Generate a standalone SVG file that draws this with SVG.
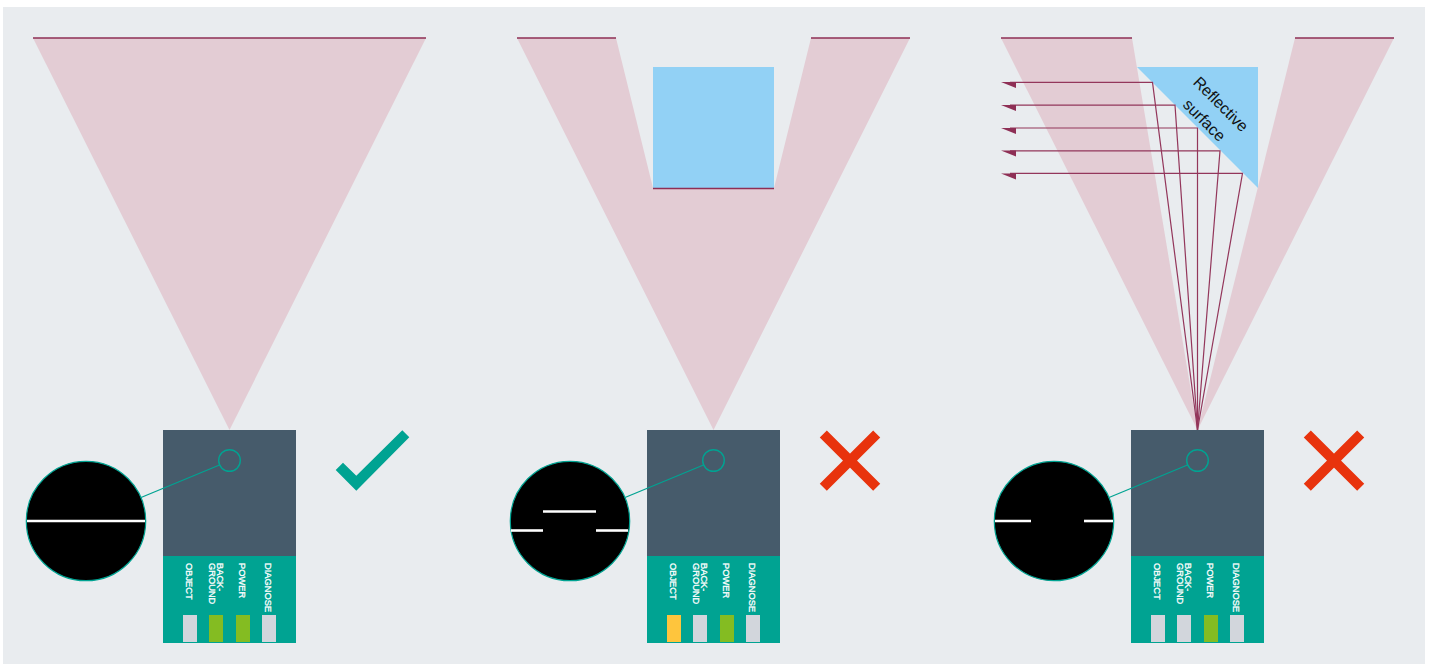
<svg xmlns="http://www.w3.org/2000/svg" width="1432" height="664" viewBox="0 0 1432 664">
<style>
.beam{fill:#e3ccd4}
.edge{stroke:#8e2f55;stroke-width:1.5;fill:none}
.ray{stroke:#93365b;stroke-width:1.2;fill:none}
.head{fill:#8e2f55}
.blue{fill:#92d1f5}
.body{fill:#465b6b}
.panel{fill:#00a392}
.led{fill:#d2d6dc}
.on{fill:#84bc22}
.warn{fill:#fec53d}
.ring{fill:none;stroke:#00a392;stroke-width:1.4}
.lens{fill:#000;stroke:#00a392;stroke-width:1.2}
.lead{stroke:#00a392;stroke-width:1.3;fill:none}
.scan{stroke:#fff;stroke-width:2.6;fill:none}
.lbl{font:400 9.3px "Liberation Sans",Arial,sans-serif;fill:#fff;stroke:#fff;stroke-width:.3}
.cross{stroke:#e8330d;stroke-width:10;fill:none}
.tick{fill:#00a392}
.refl{font:400 16px "Liberation Sans",Arial,sans-serif;fill:#111;text-anchor:middle}
</style>
<defs>
<g id="labels">
<text class="lbl" transform="translate(186 563) rotate(90)">OBJECT</text>
<text class="lbl" transform="translate(216.500 563) rotate(90)">BACK-</text>
<text class="lbl" transform="translate(208.500 563) rotate(90)">GROUND</text>
<text class="lbl" transform="translate(239 563) rotate(90)">POWER</text>
<text class="lbl" transform="translate(265 563) rotate(90)">DIAGNOSE</text>
</g>
</defs>
<rect x="3" y="7" width="1422" height="657" fill="#e9ecef"/>

<g id="scene-1-beam">
<polygon class="beam" points="33,38 426,38 229.5,430"/>
<line class="edge" x1="33" y1="38" x2="426" y2="38"/>
</g>
<g id="scene-2-beam">
<polygon class="beam" points="517,38 616,38 653,188 774,188 811,38 910,38 713.5,430"/>
<line class="edge" x1="517" y1="38" x2="616" y2="38"/>
<line class="edge" x1="811" y1="38" x2="910" y2="38"/>
</g>
<g id="scene-2-object">
<rect class="blue" x="653" y="67" width="121" height="121"/>
<line class="edge" x1="653" y1="188.500" x2="774" y2="188.500"/>
</g>
<g id="scene-3-beam">
<polygon class="beam" points="1001,38 1132,38 1197.5,430"/>
<polygon class="beam" points="1295,38 1394,38 1197.5,430"/>
<line class="edge" x1="1001" y1="38" x2="1132" y2="38"/>
<line class="edge" x1="1295" y1="38" x2="1394" y2="38"/>
</g>
<g id="scene-3-reflector">
<polygon class="blue" points="1137,67 1258,67 1258,188"/>
<text class="refl" transform="translate(1220.500 104.500) rotate(45)" x="0" y="5">Reflective</text>
<text class="refl" transform="translate(1204 120.500) rotate(45)" x="0" y="5">surface</text>
</g>

<g id="connectors">
<g id="rays">
<path class="ray" d="M1197.5 430L1152.5 82.4H1010"/>
<path class="ray" d="M1197.5 430L1175 105.200H1010"/>
<path class="ray" d="M1197.5 430V128H1010"/>
<path class="ray" d="M1197.5 430L1220 150.800H1010"/>
<path class="ray" d="M1197.5 430L1242.5 173.400H1010"/>
<polygon class="head" points="1001,82 1016,82 1016,88"/>
<polygon class="head" points="1001,105 1016,105 1016,111"/>
<polygon class="head" points="1001,128 1016,128 1016,134"/>
<polygon class="head" points="1001,150.500 1016,150.500 1016,156.500"/>
<polygon class="head" points="1001,173.500 1016,173.500 1016,179.500"/>
</g>
</g>

<g id="device-1">
<rect class="body" x="163" y="430" width="133" height="126"/>
<rect class="panel" x="163" y="556" width="133" height="87"/>
<use href="#labels"/>
<rect class="led" x="183" y="615" width="14" height="27"/>
<rect class="on" x="209" y="615" width="14" height="27"/>
<rect class="on" x="236" y="615" width="14" height="27"/>
<rect class="led" x="262" y="615" width="14" height="27"/>
<circle class="ring" cx="229.500" cy="460.500" r="10.800"/>
<line class="lead" x1="141" y1="497.500" x2="219.500" y2="465"/>
</g>
<g id="view-1">
<circle class="lens" cx="86" cy="521" r="59.700"/>
<line class="scan" x1="27" y1="521" x2="145" y2="521"/>
</g>
<g id="verdict-1"><polygon class="tick" points="335.700,470 343,462.700 356.300,475.700 402.300,430.300 409.300,437.300 356.300,490.700"/></g>

<g id="device-2" transform="translate(484 0)">
<rect class="body" x="163" y="430" width="133" height="126"/>
<rect class="panel" x="163" y="556" width="133" height="87"/>
<use href="#labels"/>
<rect class="warn" x="183" y="615" width="14" height="27"/>
<rect class="led" x="209" y="615" width="14" height="27"/>
<rect class="on" x="236" y="615" width="14" height="27"/>
<rect class="led" x="262" y="615" width="14" height="27"/>
<circle class="ring" cx="229.500" cy="460.500" r="10.800"/>
<line class="lead" x1="141" y1="497.500" x2="219.500" y2="465"/>
</g>
<g id="view-2">
<circle class="lens" cx="570" cy="521" r="59.700"/>
<line class="scan" x1="543" y1="511.500" x2="596" y2="511.500"/>
<line class="scan" x1="511" y1="530.500" x2="543" y2="530.500"/>
<line class="scan" x1="596" y1="530.500" x2="628" y2="530.500"/>
</g>
<g id="verdict-2"><path class="cross" d="M823.300 434L876.700 487.300M876.700 434L823.300 487.300"/></g>

<g id="device-3" transform="translate(968 0)">
<rect class="body" x="163" y="430" width="133" height="126"/>
<rect class="panel" x="163" y="556" width="133" height="87"/>
<use href="#labels"/>
<rect class="led" x="183" y="615" width="14" height="27"/>
<rect class="led" x="209" y="615" width="14" height="27"/>
<rect class="on" x="236" y="615" width="14" height="27"/>
<rect class="led" x="262" y="615" width="14" height="27"/>
<circle class="ring" cx="229.500" cy="460.500" r="10.800"/>
<line class="lead" x1="141" y1="497.500" x2="219.500" y2="465"/>
</g>
<g id="view-3">
<circle class="lens" cx="1054" cy="521" r="59.700"/>
<line class="scan" x1="995" y1="521" x2="1031" y2="521"/>
<line class="scan" x1="1084" y1="521" x2="1113" y2="521"/>
</g>
<g id="verdict-3"><path class="cross" d="M1307.300 434L1360.700 487.300M1360.700 434L1307.300 487.300"/></g>
</svg>
